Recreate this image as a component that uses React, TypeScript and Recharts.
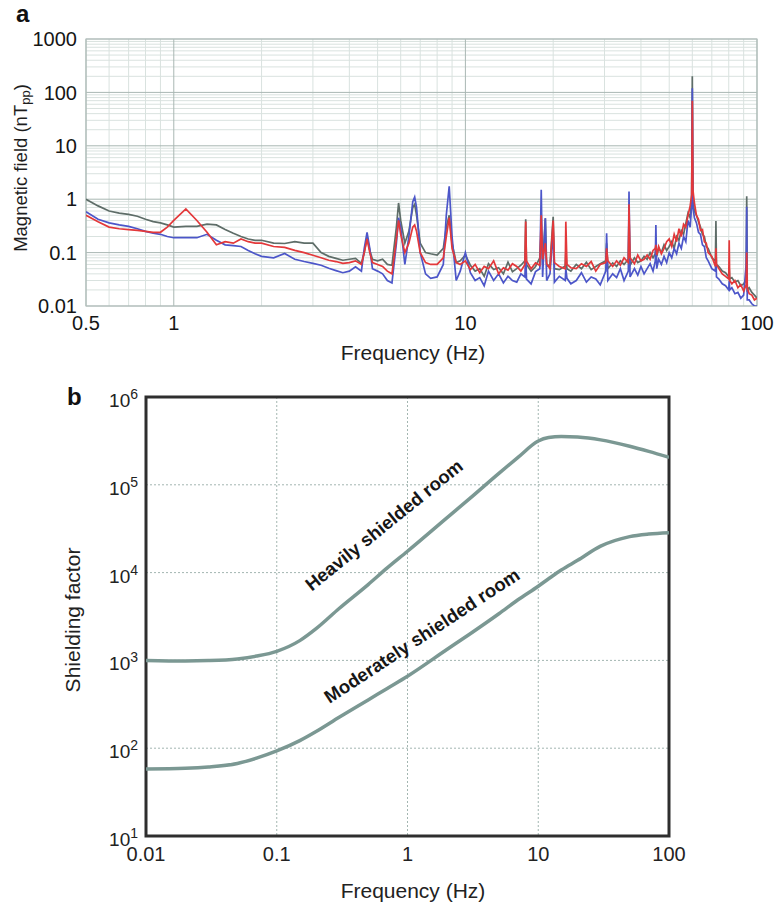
import React from "react";
import {
  LineChart, Line, XAxis, YAxis, CartesianGrid, ReferenceArea, ReferenceDot,
} from "recharts";

const FONT = "'Liberation Sans', Arial, Helvetica, sans-serif";

// ---- panel a: ambient field spectrum ----
const FREQ_A = [
  0.5, 0.55, 0.6, 0.65, 0.7, 0.75, 0.8, 0.85, 0.9, 0.95,
  1.0, 1.1, 1.2, 1.3, 1.4, 1.5, 1.6, 1.7, 1.8, 1.9,
  2.0, 2.2, 2.4, 2.6, 2.8, 3.0, 3.2, 3.4, 3.6, 3.8,
  4.0, 4.2, 4.4, 4.5, 4.6, 4.7, 4.8, 5.0, 5.2, 5.4,
  5.6, 5.8, 5.9, 6.0, 6.2, 6.4, 6.6, 6.7, 6.8, 7.0,
  7.3, 7.6, 8.0, 8.4, 8.6, 8.8, 9.0, 9.3, 9.6, 10.0,
  10.4, 10.8, 11.2, 11.6, 12.0, 12.5, 13.0, 13.5, 14.0, 14.5,
  15.0, 15.5, 16.0, 16.1, 16.2, 16.8, 17.4, 18.0, 18.2, 18.4,
  18.8, 19.0, 19.5, 20.0, 20.2, 21.0, 22.0, 22.1, 22.3, 23.0,
  24.0, 25.0, 26.0, 27.0, 28.0, 29.0, 30.3, 30.5, 30.8, 32.0,
  33.0, 34.0, 35.0, 36.2, 36.4, 36.7, 38.0, 39.0, 40.0, 41.0,
  42.0, 43.0, 44.0, 44.8, 45.0, 45.3, 46.0, 47.0, 48.0, 49.0,
  50.0, 51.0, 52.0, 53.0, 54.0, 55.0, 56.0, 57.0, 58.0, 59.0,
  59.7, 60.0, 60.3, 61.0, 62.0, 63.0, 64.0, 65.0, 66.0, 67.0,
  68.0, 70.0, 72.0, 72.3, 72.6, 74.0, 76.0, 78.0, 80.0, 80.3,
  80.6, 82.0, 84.0, 86.0, 88.0, 90.0, 91.8, 92.2, 92.6, 94.0,
  96.0, 98.0, 100,
];
const BLACK_A = [
  1.0, 0.75, 0.6, 0.55, 0.52, 0.48, 0.42, 0.38, 0.36, 0.33,
  0.3, 0.31, 0.31, 0.34, 0.33, 0.27, 0.23, 0.2, 0.18, 0.17,
  0.17, 0.15, 0.148, 0.16, 0.15, 0.15, 0.1, 0.085, 0.078, 0.072,
  0.075, 0.078, 0.063, 0.1, 0.2, 0.11, 0.075, 0.07, 0.075, 0.06,
  0.058, 0.3, 0.85, 0.4, 0.15, 0.25, 0.7, 0.8, 0.5, 0.15,
  0.1, 0.095, 0.09, 0.12, 0.3, 0.5, 0.15, 0.065, 0.07, 0.09,
  0.058, 0.045, 0.05, 0.036, 0.062, 0.048, 0.052, 0.04, 0.066, 0.044,
  0.05, 0.058, 0.07, 0.42, 0.06, 0.045, 0.055, 0.08, 0.25, 0.06,
  0.44, 0.055, 0.06, 0.47, 0.05, 0.048, 0.056, 0.1, 0.05, 0.045,
  0.06, 0.05, 0.066, 0.048, 0.055, 0.062, 0.07, 0.15, 0.05, 0.064,
  0.055, 0.07, 0.06, 0.075, 0.5, 0.058, 0.08, 0.065, 0.07, 0.085,
  0.075, 0.1, 0.08, 0.095, 0.13, 0.085, 0.12, 0.1, 0.14, 0.11,
  0.13, 0.16, 0.12, 0.2, 0.17, 0.26, 0.22, 0.35, 0.55, 0.45,
  1.0, 200, 0.9, 0.6, 0.5, 0.38, 0.3, 0.22, 0.2, 0.13,
  0.12, 0.08, 0.07, 0.39, 0.06, 0.055, 0.045, 0.042, 0.035, 0.05,
  0.032, 0.034, 0.028, 0.03, 0.024, 0.026, 0.03, 1.14, 0.02, 0.022,
  0.018, 0.016, 0.014,
];
const RED_A = [
  0.5, 0.38, 0.3, 0.28, 0.27, 0.26, 0.25, 0.24, 0.24, 0.3,
  0.4, 0.66, 0.4, 0.24, 0.14, 0.16, 0.15, 0.18, 0.16, 0.15,
  0.15, 0.13, 0.125, 0.11, 0.1, 0.089, 0.08, 0.072, 0.068, 0.063,
  0.065, 0.07, 0.06, 0.1, 0.18, 0.1, 0.065, 0.06, 0.055, 0.045,
  0.04, 0.18, 0.4, 0.22, 0.1, 0.15, 0.3, 0.33, 0.25, 0.1,
  0.065, 0.06, 0.06, 0.08, 0.2, 0.45, 0.12, 0.065, 0.06, 0.07,
  0.048, 0.06, 0.042, 0.055, 0.05, 0.07, 0.04, 0.052, 0.047, 0.062,
  0.055, 0.045, 0.06, 0.38, 0.07, 0.05, 0.064, 0.058, 0.5, 0.075,
  0.15, 0.062, 0.05, 0.4, 0.065, 0.055, 0.05, 0.38, 0.06, 0.052,
  0.05, 0.062, 0.055, 0.068, 0.045, 0.06, 0.065, 0.12, 0.07, 0.055,
  0.07, 0.058, 0.08, 0.065, 0.8, 0.08, 0.062, 0.09, 0.07, 0.075,
  0.09, 0.075, 0.11, 0.12, 0.14, 0.09, 0.13, 0.095, 0.12, 0.16,
  0.18, 0.13, 0.22, 0.16, 0.28, 0.2, 0.34, 0.3, 0.5, 0.75,
  1.2, 70, 1.5, 0.85, 0.5, 0.42, 0.26, 0.27, 0.16, 0.15,
  0.1, 0.085, 0.055, 0.12, 0.06, 0.05, 0.04, 0.036, 0.032, 0.17,
  0.03, 0.026, 0.03, 0.022, 0.025, 0.019, 0.025, 0.1, 0.022, 0.017,
  0.016, 0.013, 0.014,
];
const BLUE_A = [
  0.58, 0.42, 0.36, 0.33, 0.31, 0.28, 0.25, 0.23, 0.22, 0.2,
  0.19, 0.19, 0.19, 0.22, 0.17, 0.14, 0.135, 0.13, 0.11, 0.095,
  0.085, 0.08, 0.096, 0.075, 0.068, 0.063, 0.058, 0.051, 0.046, 0.042,
  0.045, 0.054, 0.045, 0.12, 0.24, 0.12, 0.05, 0.045, 0.04, 0.03,
  0.027, 0.15, 0.45, 0.3, 0.06, 0.2, 0.9, 1.1, 0.7, 0.1,
  0.04, 0.033, 0.035, 0.06, 0.5, 1.75, 0.2, 0.03, 0.045, 0.1,
  0.042, 0.03, 0.034, 0.024, 0.045, 0.03, 0.04, 0.027, 0.036, 0.03,
  0.028, 0.04, 0.035, 0.1, 0.032, 0.026, 0.044, 0.05, 1.5, 0.035,
  0.44, 0.03, 0.04, 0.25, 0.028, 0.036, 0.03, 0.05, 0.033, 0.026,
  0.03, 0.042, 0.028, 0.035, 0.032, 0.025, 0.045, 0.23, 0.03, 0.04,
  0.034, 0.05, 0.03, 0.045, 1.4, 0.035, 0.05, 0.038, 0.055, 0.04,
  0.05, 0.062, 0.045, 0.07, 0.33, 0.05, 0.075, 0.06, 0.085, 0.065,
  0.1, 0.08, 0.12, 0.095, 0.15, 0.12, 0.2, 0.16, 0.4, 0.3,
  0.8, 120, 0.7, 0.45, 0.36, 0.24, 0.22, 0.14, 0.13, 0.08,
  0.07, 0.05, 0.045, 0.09, 0.035, 0.032, 0.026, 0.024, 0.02, 0.03,
  0.02, 0.022, 0.017, 0.018, 0.014, 0.016, 0.06, 0.72, 0.013, 0.013,
  0.011, 0.01, 0.01,
];
const X_TICKS_A = [0.5, 1, 10, 100];
const Y_TICKS_A = [0.01, 0.1, 1, 10, 100, 1000];
const X_MINOR_A = [0.6, 0.7, 0.8, 0.9, 2, 3, 4, 5, 6, 7, 8, 9, 20, 30, 40, 50, 60, 70, 80, 90];
const Y_MINOR_A = [
  0.02, 0.03, 0.04, 0.05, 0.06, 0.07, 0.08, 0.09,
  0.2, 0.3, 0.4, 0.5, 0.6, 0.7, 0.8, 0.9,
  2, 3, 4, 5, 6, 7, 8, 9,
  20, 30, 40, 50, 60, 70, 80, 90,
  200, 300, 400, 500, 600, 700, 800, 900,
];

// ---- panel b: shielding factor ----
const FREQ_B = [0.01, 0.02, 0.03, 0.05, 0.07, 0.1, 0.15, 0.2, 0.3, 0.5, 0.7, 1, 2, 3, 5, 7, 10, 12, 15, 20, 30, 50, 70, 100];
const HEAVY = [1000, 985, 995, 1040, 1120, 1270, 1680, 2300, 3900, 7300, 11300, 17500, 42000, 70000, 135000, 205000, 315000, 345000, 355000, 350000, 325000, 275000, 240000, 205000];
const MODERATE = [58, 59, 61, 67, 77, 93, 122, 155, 225, 355, 480, 660, 1330, 2000, 3400, 4900, 7000, 8500, 10700, 13800, 20000, 25700, 27500, 28500];
const X_TICKS_B = [0.01, 0.1, 1, 10, 100];
const Y_TICKS_B = [10, 100, 1000, 10000, 100000, 1000000];

const rowsA = FREQ_A.map((f, i) => ({ f, black: BLACK_A[i], red: RED_A[i], blue: BLUE_A[i] }));
const rowsB = FREQ_B.map((f, i) => ({ f, heavy: HEAVY[i], moderate: MODERATE[i] }));

const TICK_A = { fontSize: 20, fill: "#151515", fontFamily: FONT };
const TICK_B = { fontSize: 20, fill: "#222", fontFamily: FONT };

function PowTick({ x, y, payload }: any) {
  const exp = Math.round(Math.log10(payload.value));
  return (
    <text x={x} y={y + 10} textAnchor="end" fontFamily={FONT} fontSize={19} fill="#222">
      10<tspan dy={-8} fontSize={14}>{exp}</tspan>
    </text>
  );
}

// rotated note whose baseline runs through the dot
function curveNote(note: string, angle: number) {
  return (p: any) => {
    const cx = p.viewBox.x + p.viewBox.width / 2;
    const cy = p.viewBox.y + p.viewBox.height / 2;
    return (
      <text x={cx} y={cy} transform={`rotate(${angle} ${cx} ${cy})`} textAnchor="middle"
        fontFamily={FONT} fontWeight="bold" fontSize={18.5} fill="#161616">
        {note}
      </text>
    );
  };
}

function SpectrumChart() {
  return (
    <LineChart width={775} height={370} data={rowsA} margin={{ top: 39, right: 18, bottom: 34, left: 26 }}>
      <CartesianGrid horizontalValues={Y_MINOR_A} verticalValues={X_MINOR_A} stroke="#d9e2df" />
      <CartesianGrid stroke="#a9b7b3" />
      <XAxis dataKey="f" type="number" scale="log" domain={[0.5, 100]} ticks={X_TICKS_A} interval={0}
        allowDataOverflow tickLine={false} axisLine={false} tick={TICK_A} tickMargin={4} height={30}
        label={() => (
          <text x={413} y={352} textAnchor="middle" dominantBaseline="central" fontFamily={FONT} fontSize={21} fill="#1e1e1e">
            Frequency (Hz)
          </text>
        )} />
      <YAxis type="number" scale="log" domain={[0.01, 1000]} ticks={Y_TICKS_A} interval={0}
        allowDataOverflow tickLine={false} axisLine={false} tick={TICK_A} tickMargin={3} width={60}
        tickFormatter={(v: number) => String(v)}
        label={() => (
          <text x={20} y={168} transform="rotate(-90 20 168)" textAnchor="middle" dominantBaseline="central"
            fontFamily={FONT} fontSize={18.5} fill="#1e1e1e">
            Magnetic field (nT<tspan fontSize={13} dy={5}>pp</tspan><tspan dy={-5}>)</tspan>
          </text>
        )} />
      <ReferenceArea x1={0.5} x2={100} y1={0.01} y2={1000} fill="none" stroke="#b4c0bd" strokeWidth={1.2} />
      <Line dataKey="black" stroke="#5e6d68" strokeWidth={1.7} dot={false} isAnimationActive={false} />
      <Line dataKey="blue" stroke="#4c56c9" strokeWidth={1.7} dot={false} isAnimationActive={false} />
      <Line dataKey="red" stroke="#e3383a" strokeWidth={1.7} dot={false} isAnimationActive={false} />
    </LineChart>
  );
}

function ShieldingChart() {
  return (
    <LineChart width={775} height={540} data={rowsB} margin={{ top: 27, right: 106, bottom: 44, left: 86 }}>
      <CartesianGrid stroke="#a3b6b1" strokeDasharray="2 2" />
      <XAxis dataKey="f" type="number" scale="log" domain={[0.01, 100]} ticks={X_TICKS_B} interval={0}
        allowDataOverflow tickLine={false} axisLine={false} tick={TICK_B} tickMargin={5} height={30}
        label={() => (
          <text x={413} y={520} textAnchor="middle" dominantBaseline="central" fontFamily={FONT} fontSize={21} fill="#222">
            Frequency (Hz)
          </text>
        )} />
      <YAxis type="number" scale="log" domain={[10, 1000000]} ticks={Y_TICKS_B} interval={0}
        allowDataOverflow tickLine={false} axisLine={false} tick={<PowTick />} width={60}
        label={() => (
          <text x={72} y={250} transform="rotate(-90 72 250)" textAnchor="middle" dominantBaseline="central"
            fontFamily={FONT} fontSize={21} fill="#222">
            Shielding factor
          </text>
        )} />
      <Line dataKey="heavy" type="monotone" stroke="#7b9893" strokeWidth={3.5} dot={false} isAnimationActive={false} />
      <Line dataKey="moderate" type="monotone" stroke="#7b9893" strokeWidth={3.5} dot={false} isAnimationActive={false} />
      <ReferenceArea x1={0.01} x2={100} y1={10} y2={1000000} fill="none" stroke="#2e2e2e" strokeWidth={3} />
      <ReferenceDot x={0.71} y={30500} r={0} fill="none" stroke="none"
        label={curveNote("Heavily shielded room", -39)} />
      <ReferenceDot x={1.37} y={1660} r={0} fill="none" stroke="none"
        label={curveNote("Moderately shielded room", -33.3)} />
    </LineChart>
  );
}

export default function App() {
  return (
    <div style={{ position: "absolute", left: 0, top: 0, width: 775, height: 910, background: "#fff", overflow: "hidden" }}>
      <div style={{ position: "absolute", left: 0, top: 0 }}>
        <SpectrumChart />
      </div>
      <div style={{ position: "absolute", left: 0, top: 370 }}>
        <ShieldingChart />
      </div>
      <svg width={775} height={910} style={{ position: "absolute", left: 0, top: 0, pointerEvents: "none" }}>
        <text x={16} y={22} fontFamily={FONT} fontWeight="bold" fontSize={24} fill="#111">a</text>
        <text x={67} y={405} fontFamily={FONT} fontWeight="bold" fontSize={24} fill="#111">b</text>
      </svg>
    </div>
  );
}
